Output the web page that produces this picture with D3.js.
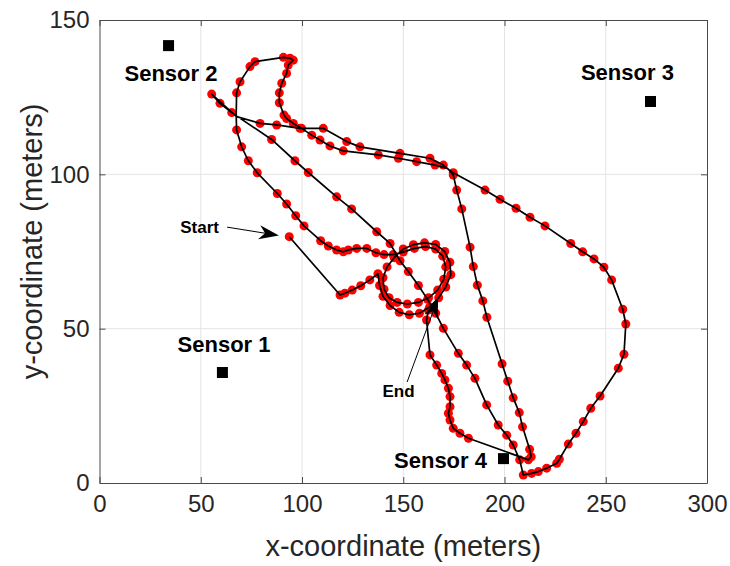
<!DOCTYPE html>
<html><head><meta charset="utf-8">
<script src="https://cdn.jsdelivr.net/npm/d3@7"></script>
<style>
body{margin:0;background:#fff;}
svg{display:block;font-family:"Liberation Sans",Arial,Helvetica,sans-serif;}
</style>
</head><body><svg id="c" width="730" height="566"></svg>
<script>
// ---------- data ----------
const xTicks = [0, 50, 100, 150, 200, 250, 300];
const yTicks = [0, 50, 100, 150];
const xLabel = "x-coordinate (meters)";
const yLabel = "y-coordinate (meters)";

const sensorNames  = ["Sensor 1", "Sensor 2", "Sensor 3", "Sensor 4"];
const sensorX      = [60.7, 34.1, 272.1, 199.5];
const sensorY      = [35.8, 141.7, 123.6, 7.9];
const sensorLabelX = [61.5, 35.3, 260.7, 168.4];
const sensorLabelY = [42.4, 130.2, 130.5, 4.9];

// annotations
const noteText  = ["Start", "End"];
const noteTextX = [59.0, 147.7];
const noteTextY = [81.1, 27.9];
const noteFromX = [63.0, 151.9];
const noteFromY = [82.9, 32.7];
const noteToX   = [88.6, 167.2];
const noteToY   = [80.2, 59.9];

// trajectory legs, in travel order: [x, y] or [x, y, 0] = vertex without marker
const startLeg = [[93.7,79.8],[118.8,60.9],[121.2,61.5],[124.8,62.5],[129,63.9],[133.5,65.8],[137.5,67.8]];
const loopLeg = [[138.3,64],[140,60.5],[143.5,57.5],[148,55.3],[153,54.5],[158,55],[163,57],[167.5,60],
  [171,63.5],[173.5,67.5],[173,71.5],[170.5,75],[166,77.3],[160.5,77.8],[155,77.2],[150,75.8],[145.5,73],
  [142,70],[140,66.5],[140.5,62.8],[143,60],[147,58.5],[152,58],[157.5,58.5],[162.5,60],[167,62.5],[170,66],
  [171,70],[169.5,73.5],[166,75.8],[161,76.6],[155.5,76],[150,74.8],[145,74],[140.5,74]];
const westLeg = [[136.5,74.6],[132,76],[127,76],[122.9,75.5],[120.4,74.9],[117.1,75.5],[113,76.8],[109.2,78.5],
  [101,83.3],[96.9,86.6],[92.4,90.4],[87.8,93.8],[77.9,100.5],[73.5,104.4],[70.2,108.9],[67.7,114.4],[67.5,119,0]];
const hookLeg = [[67.7,126.4],[69.4,130],[74.3,134.9],[76.8,136.5],[90.8,137.9],[94.1,137.6],[95.7,137],
  [93.2,135.4],[92.4,132.7],[90,129.5],[88.8,126.4],[88.8,123.2],[91.1,119.2],[92.4,118.1],[95.7,116.5],
  [99.8,114.9],[104.8,112.7],[108.9,111.1],[113.8,109.2],[120.4,107.6],[137.7,106.3],[147.6,105.2],
  [156.6,104.1],[165.7,103],[171.4,102,0]];
const eastArc = [[174.7,100.5],[190.4,94.9],[197.8,91.9],[205.7,89],[212.6,86.1],[220,83.3],[232.7,77.6],
  [238.6,74.9],[244.2,72.6],[249.1,69.9],[252.9,65.8],[258.4,56.3],[259.9,51.5],[259,41.7],[256.2,37.2],
  [247.2,28.2],[242.6,24.2],[238.9,19.9],[235.3,16.1],[231.5,12.6],[227.1,7.7],[225.8,6.4],[220.8,4.8],
  [216.7,3.7],[213.4,3.1],[209.3,2.6]];
const diagLeg = [[207.5,7.5],[204.3,12.3],[201.1,15.5],[196.9,18.8],[191.2,25.3],[185.4,33.9],[181.3,38.2],
  [177.2,42],[169.8,50.1],[166,55],[162,59.5],[157.5,64],[152.5,68.5],[148.4,72],[143.5,77.6],[136.9,81.4],
  [124.5,88.8],[117.1,92.7],[103.1,100.6],[96.5,104.4],[85,111.3],[65.3,120],[59.5,123],[55.4,126]];
const northLeg = [[67.7,118.7,0],[79.3,116.5],[87.5,116],[99,114.9],[110.5,114.9],[122.1,110.6],[128.6,108.9],
  [148.4,106.8],[163.2,105.2],[169.8,103],[172.5,101.5,0]];
const steepLeg = [[174.7,99.8],[176.4,94.9],[178.9,88.8],[183,76.4],[184.6,70.1],[186.6,64.1],[189.3,59],
  [191.3,53.7],[198.8,38.6],[201.6,33],[204.3,27.6],[207.3,22.8],[208.9,18.2],[212.4,10.9],[213.2,8.5],[211.8,7.5]];
const endLeg = [[182.2,14.5],[178,16.1],[174.7,17.7],[173.1,20.4],[172.3,22.6],[173.1,24.7],[173.1,28],
  [172.3,30.7],[170.6,33.4],[169,35.5],[166.5,38.2],[163.2,41.5],[161.5,52.8],[162.4,56]];

// ---------- drawing ----------
const svg = d3.select("#c");
const x = d3.scaleLinear().domain([0, 300]).range([99.5, 707]);
const y = d3.scaleLinear().domain([0, 150]).range([483, 20]);
const ink = "#262626";

const track = [].concat(startLeg, loopLeg, westLeg, hookLeg, eastArc, diagLeg, northLeg, steepLeg, endLeg);

// grid
svg.append("g").selectAll("line").data(xTicks.slice(1, -1)).join("line")
  .attr("x1", d => x(d)).attr("x2", d => x(d)).attr("y1", y(0)).attr("y2", y(150))
  .attr("stroke", "#e4e4e4").attr("stroke-width", 1);
svg.append("g").selectAll("line").data(yTicks.slice(1, -1)).join("line")
  .attr("y1", d => y(d)).attr("y2", d => y(d)).attr("x1", x(0)).attr("x2", x(300))
  .attr("stroke", "#e4e4e4").attr("stroke-width", 1);

// axes (ticks inward)
const xAxB = d3.axisBottom(x).tickValues(xTicks).tickSizeInner(-6).tickSizeOuter(0).tickPadding(12);
const xAxT = d3.axisTop(x).tickValues(xTicks).tickSizeInner(-6).tickSizeOuter(0).tickFormat("");
const yAxL = d3.axisLeft(y).tickValues(yTicks).tickSizeInner(-6).tickSizeOuter(0).tickPadding(10);
const yAxR = d3.axisRight(y).tickValues(yTicks).tickSizeInner(-6).tickSizeOuter(0).tickFormat("");
function styleAxis(g){
  g.select(".domain").attr("stroke", "#4a4a4a").attr("stroke-width", 1);
  g.selectAll(".tick line").attr("stroke", "#4a4a4a");
  g.selectAll(".tick text").attr("fill", ink).attr("font-size", 24)
    .attr("font-family", "'Liberation Sans',Arial,sans-serif");
}
svg.append("g").attr("transform", `translate(0,${y(0)})`).call(xAxB).call(styleAxis);
svg.append("g").attr("transform", `translate(0,${y(150)})`).call(xAxT).call(styleAxis);
svg.append("g").attr("transform", `translate(${x(0)},0)`).call(yAxL).call(styleAxis);
svg.append("g").attr("transform", `translate(${x(300)},0)`).call(yAxR).call(styleAxis);

// axis labels
svg.append("text").attr("x", (x(0) + x(300)) / 2).attr("y", 556).attr("text-anchor", "middle")
  .attr("font-size", 29).attr("fill", ink).text(xLabel);
svg.append("text").attr("transform", `translate(42,${(y(0) + y(150)) / 2 - 10}) rotate(-90)`)
  .attr("text-anchor", "middle").attr("font-size", 29).attr("fill", ink).text(yLabel);

// red markers
svg.append("g").selectAll("circle").data(track.filter(p => p[2] !== 0)).join("circle")
  .attr("cx", d => x(d[0])).attr("cy", d => y(d[1])).attr("r", 4.5).attr("fill", "#ff0000");

// black trajectory line
svg.append("path").datum(track)
  .attr("d", d3.line().x(d => x(d[0])).y(d => y(d[1])))
  .attr("fill", "none").attr("stroke", "#000").attr("stroke-width", 1.7)
  .attr("stroke-linejoin", "round");

// sensors
const sq = 11;
svg.append("g").selectAll("rect").data(sensorX).join("rect")
  .attr("x", (d, i) => x(d) - sq / 2).attr("y", (d, i) => y(sensorY[i]) - sq / 2)
  .attr("width", sq).attr("height", sq).attr("fill", "#000");
svg.append("g").selectAll("text").data(sensorNames).join("text")
  .attr("x", (d, i) => x(sensorLabelX[i])).attr("y", (d, i) => y(sensorLabelY[i]))
  .attr("text-anchor", "middle").attr("font-size", 22).attr("font-weight", "bold").attr("fill", "#000")
  .text(d => d);

// annotations
noteText.forEach((t, i) => {
  const tx = x(noteTextX[i]), ty = y(noteTextY[i]);
  svg.append("text").attr("x", tx).attr("y", ty)
    .attr("text-anchor", i === 0 ? "end" : "middle")
    .attr("font-size", 17).attr("font-weight", "bold").attr("fill", "#000").text(t);
  const x0 = x(noteFromX[i]), y0 = y(noteFromY[i]), x1 = x(noteToX[i]), y1 = y(noteToY[i]);
  const a = Math.atan2(y1 - y0, x1 - x0), L = 20, W = 7, N = 14;
  const ux = Math.cos(a), uy = Math.sin(a), px = -uy, py = ux;
  svg.append("line").attr("x1", x0).attr("y1", y0)
    .attr("x2", x1 - ux * N).attr("y2", y1 - uy * N)
    .attr("stroke", "#000").attr("stroke-width", 1);
  const pts = [[x1, y1], [x1 - ux * L + px * W, y1 - uy * L + py * W],
    [x1 - ux * N, y1 - uy * N], [x1 - ux * L - px * W, y1 - uy * L - py * W]];
  svg.append("polygon").attr("points", pts.map(p => p.join(",")).join(" ")).attr("fill", "#000");
});
</script>
</body></html>
